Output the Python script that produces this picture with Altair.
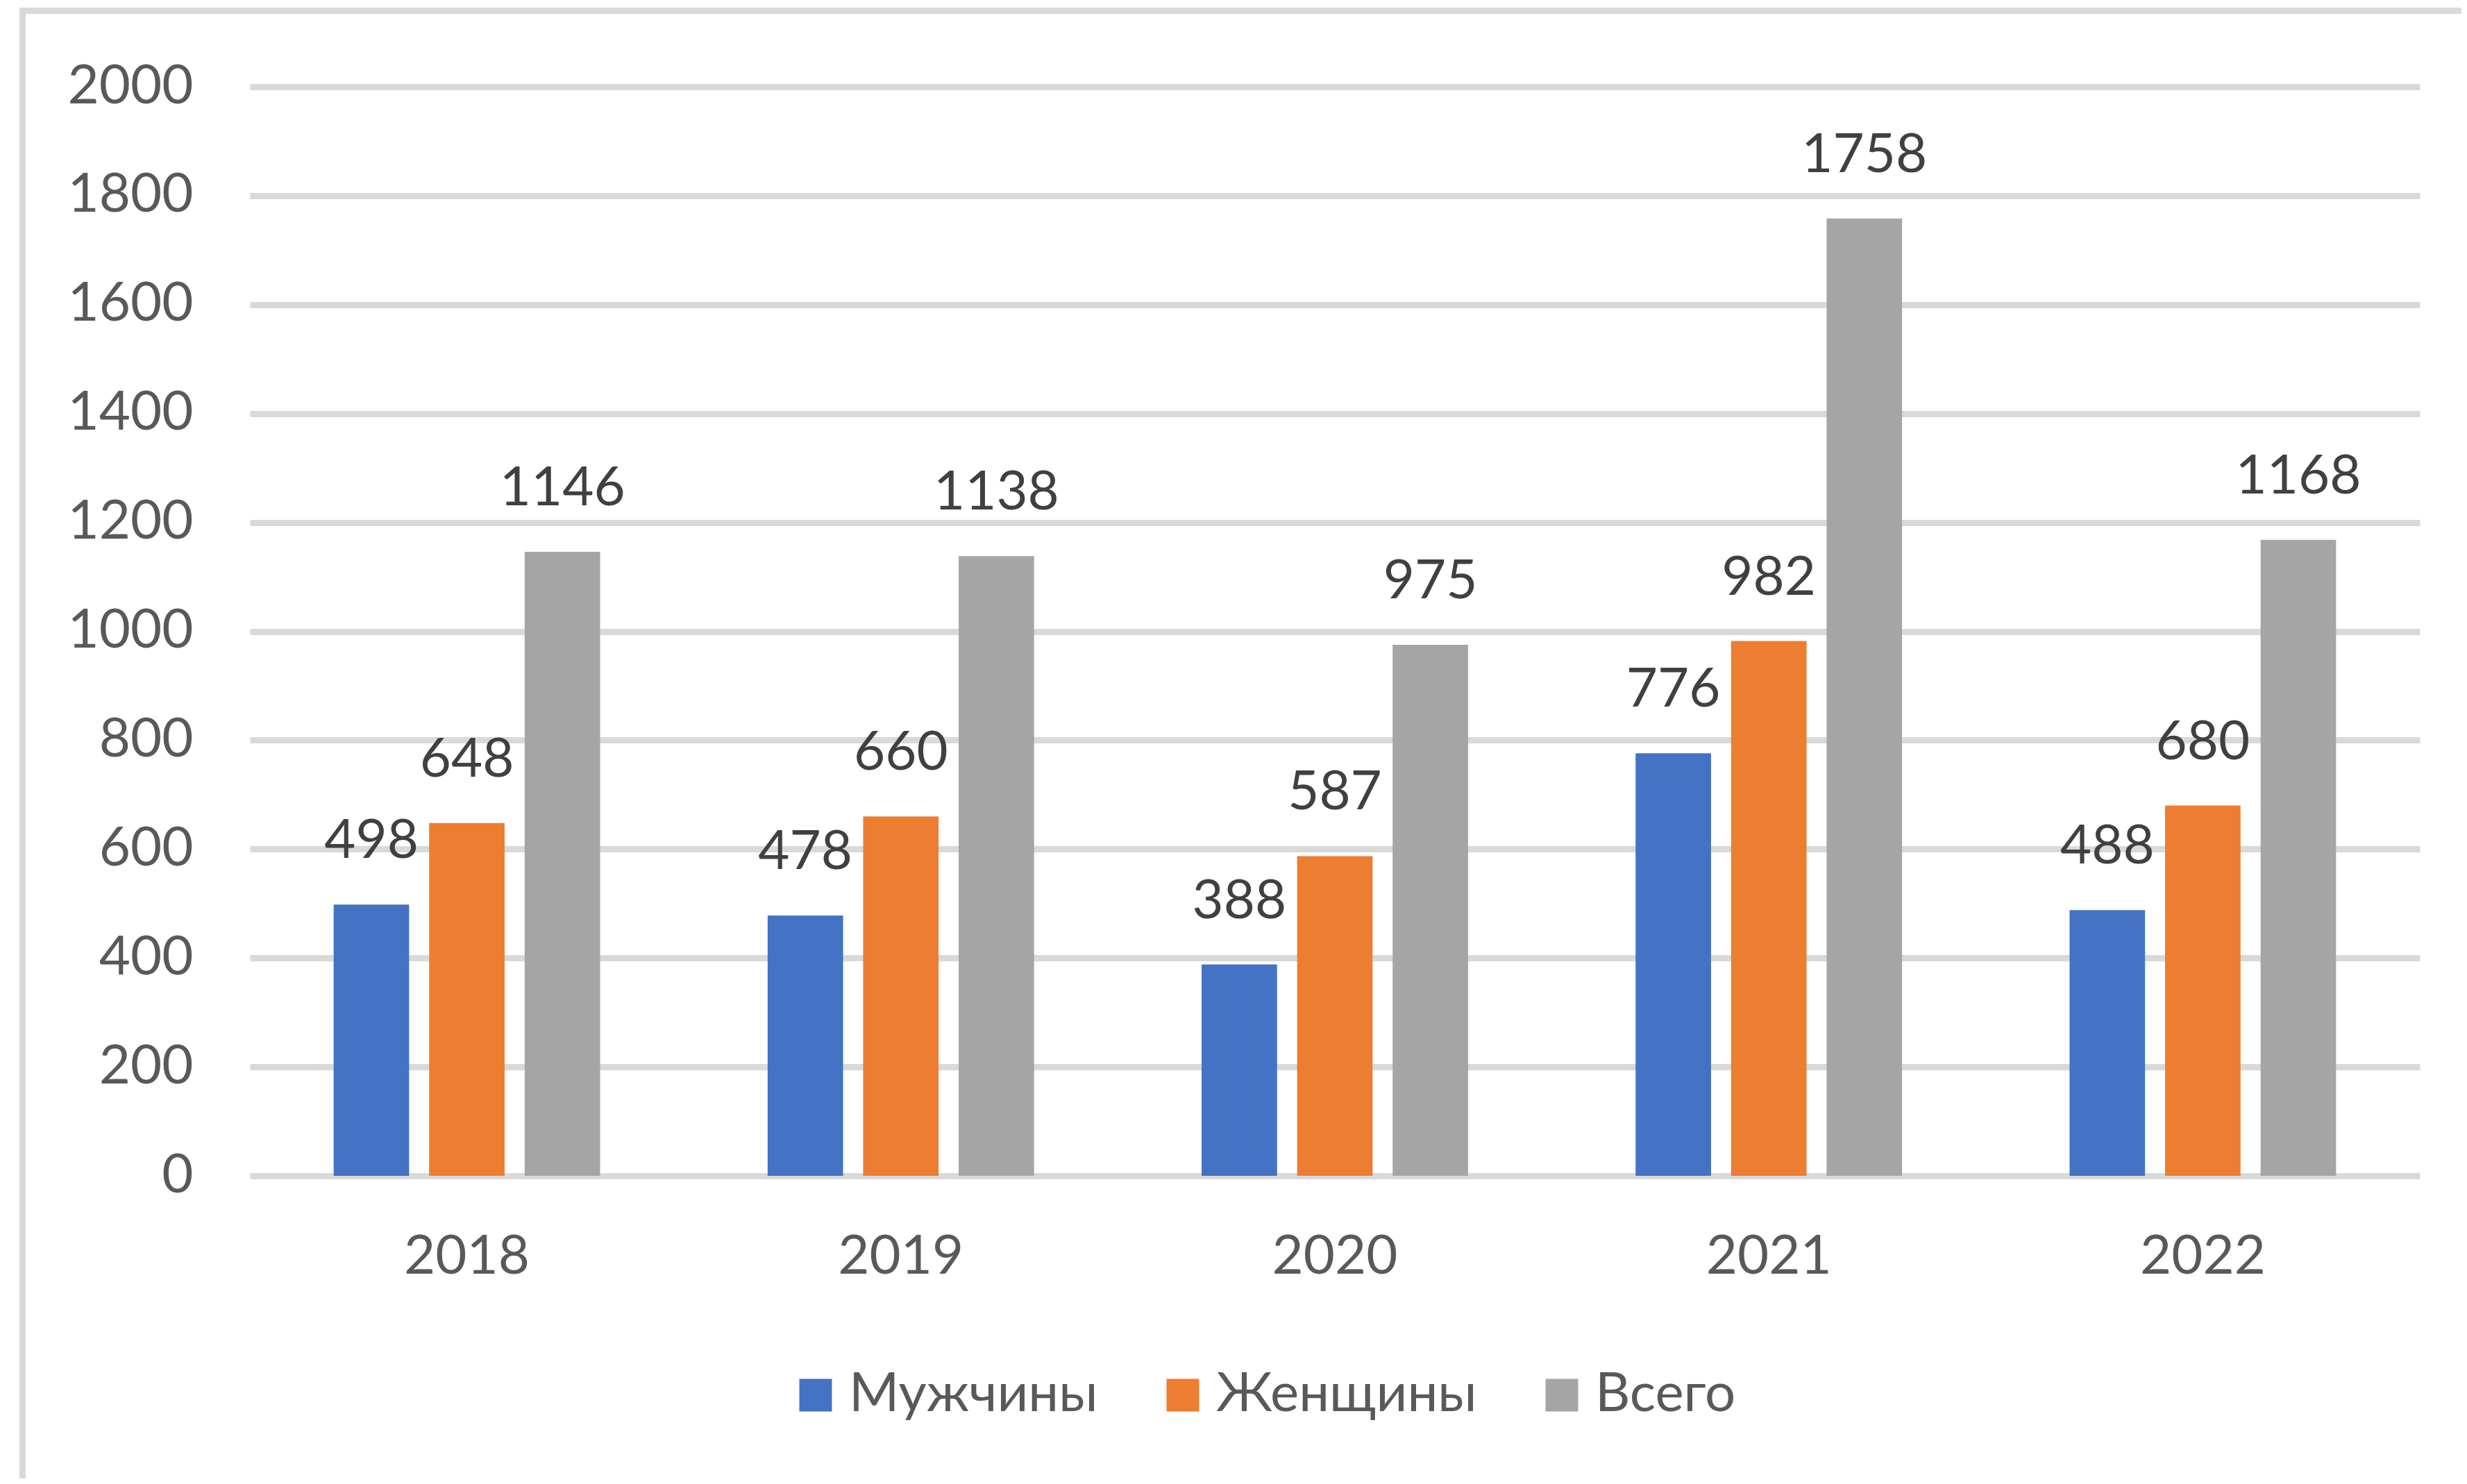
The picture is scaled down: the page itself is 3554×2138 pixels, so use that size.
import altair as alt
import pandas as pd

years = ["2018", "2019", "2020", "2021", "2022"]
series = ["Мужчины", "Женщины", "Всего"]
men = [498, 478, 388, 776, 488]
women = [648, 660, 587, 982, 680]
total = [1146, 1138, 975, 1758, 1168]
colors = ["#4472C4", "#ED7D31", "#A5A5A5"]
y_ticks = list(range(0, 2001, 200))

rows = []
for i, yr in enumerate(years):
    for s, vals in zip(series, [men, women, total]):
        rows.append({"year": yr, "series": s, "value": vals[i]})
df = pd.DataFrame(rows)

W, H = 3126, 1569
FONT = "Lato"

x = alt.X(
    "year:N", sort=years,
    scale=alt.Scale(paddingInner=0.386, paddingOuter=0.193),
    axis=alt.Axis(title=None, labelAngle=0, domain=False, ticks=False, grid=False,
                  labelPadding=78, labelFont=FONT, labelFontSize=78, labelLimit=2000,
                  labelColor="#595959", labelBaseline="top"),
)
xo = alt.XOffset("series:N", sort=series, scale=alt.Scale(paddingInner=0.21, paddingOuter=0))
y = alt.Y(
    "value:Q",
    scale=alt.Scale(domain=[0, 2000], nice=False),
    axis=alt.Axis(title=None, values=y_ticks, format="d", domain=False, ticks=False, grid=True,
                  gridColor="#D9D9D9", gridWidth=9, labelPadding=82, labelLimit=2000,
                  labelFont=FONT, labelFontSize=78, labelColor="#595959"),
)
color = alt.Color(
    "series:N", sort=series,
    scale=alt.Scale(domain=series, range=colors),
    legend=alt.Legend(title=None, orient="none", legendX=776, legendY=1846,
                      direction="horizontal", symbolType="square", symbolSize=2209,
                      symbolStrokeWidth=0, symbolOpacity=1, labelFont=FONT,
                      labelFontSize=78, labelColor="#595959", labelOffset=9,
                      columnPadding=83, padding=0, labelLimit=2000),
)

bars = alt.Chart(df).mark_bar().encode(x=x, xOffset=xo, y=y, color=color)
labels = alt.Chart(df).mark_text(
    dy=-67, baseline="alphabetic", font=FONT, fontSize=78, color="#404040"
).encode(x=x, xOffset=xo, y=y, text="value:Q")

dummy = pd.DataFrame({"k": [0]})
frame_top = alt.Chart(dummy).mark_rule(color="#D9D9D9", strokeWidth=9).encode(
    x=alt.value(-332), x2=alt.value(3300), y=alt.value(-109.5)
)
frame_left = alt.Chart(dummy).mark_rule(color="#D9D9D9", strokeWidth=9).encode(
    x=alt.value(-327.5), y=alt.value(-114), y2=alt.value(2100)
)

chart = alt.layer(frame_top, frame_left, bars, labels).properties(
    width=W, height=H,
    padding={"left": 352, "top": 117, "right": 60, "bottom": 436},
    autosize=alt.AutoSizeParams(type="none"),
    background="white",
).configure_view(stroke=None)

chart.save("out.html", embed_options={"renderer": "svg", "actions": False})
